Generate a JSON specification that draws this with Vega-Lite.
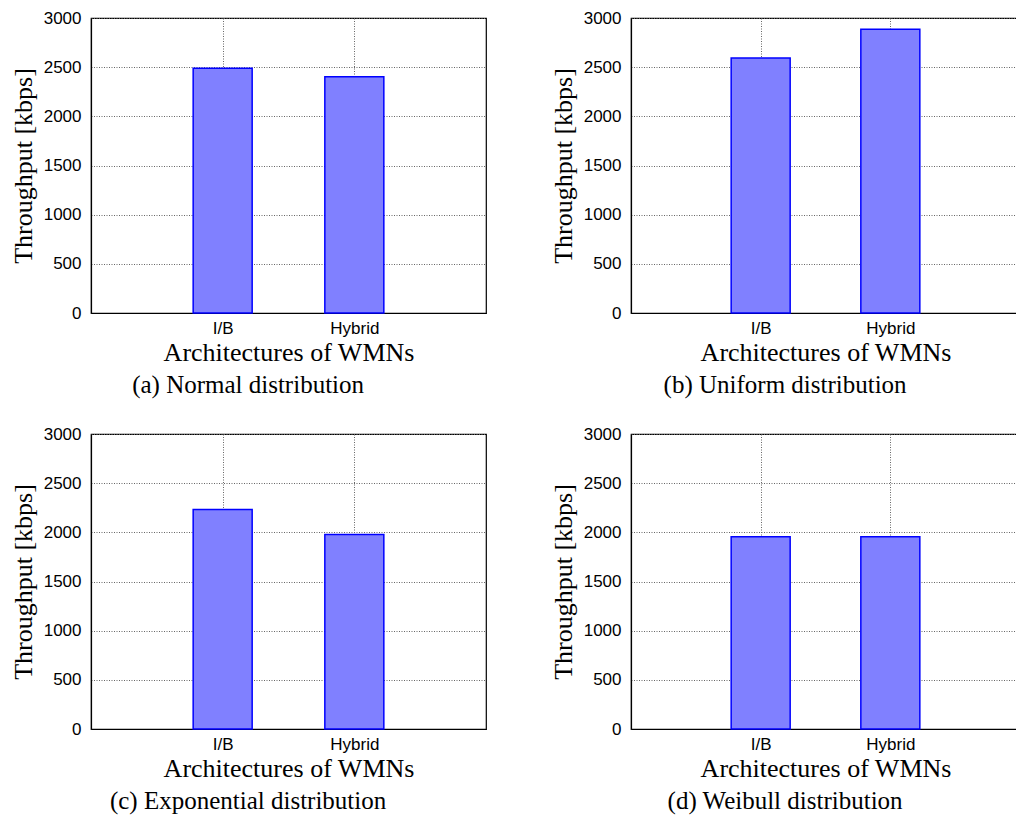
{
  "$schema": "https://vega.github.io/schema/vega-lite/v6.json",
  "padding": {"left": 9, "top": 8, "right": 0, "bottom": 0},
  "background": "white",
  "datasets": {
    "d": [
      {"dist": "Normal", "arch": "I/B", "throughput": 2490},
      {"dist": "Normal", "arch": "Hybrid", "throughput": 2403},
      {"dist": "Uniform", "arch": "I/B", "throughput": 2593},
      {"dist": "Uniform", "arch": "Hybrid", "throughput": 2885},
      {"dist": "Exponential", "arch": "I/B", "throughput": 2232},
      {"dist": "Exponential", "arch": "Hybrid", "throughput": 1978},
      {"dist": "Weibull", "arch": "I/B", "throughput": 1954},
      {"dist": "Weibull", "arch": "Hybrid", "throughput": 1954}
    ]
  },
  "config": {
    "view": {"stroke": "black", "strokeWidth": 1.2},
    "axis": {
      "labelFont": "Liberation Sans", "labelFontSize": 17, "labelColor": "black",
      "titleFont": "Liberation Serif", "titleFontSize": 26, "titleFontWeight": "normal", "titleColor": "black",
      "domainColor": "black", "domainWidth": 1.2, "ticks": false,
      "grid": true, "gridColor": "#666666", "gridDash": [1, 1.5], "gridWidth": 1, "gridOpacity": 1
    },
    "title": {"font": "Liberation Serif", "fontSize": 25, "fontWeight": "normal", "color": "black"}
  },
  "spacing": 25,
  "vconcat": [
    {
      "spacing": 62,
      "hconcat": [
        {
          "data": {"name": "d"},
          "transform": [{"filter": "datum.dist == 'Normal'"}],
          "title": {"text": "(a)  Normal distribution", "orient": "bottom", "frame": "bounds", "anchor": "middle", "offset": 8},
          "width": 395, "height": 295,
          "mark": {"type": "bar", "width": 59, "fill": "#8080ff", "stroke": "#0000ff", "strokeWidth": 1.5},
          "encoding": {
            "x": {"field": "arch", "type": "nominal", "sort": ["I/B", "Hybrid"], "scale": {"type": "point", "padding": 1},
                  "axis": {"title": "Architectures of WMNs", "labelAngle": 0, "labelPadding": 7, "titlePadding": 3}},
            "y": {"field": "throughput", "type": "quantitative", "scale": {"domain": [0, 3000], "nice": false},
                  "axis": {"title": "Throughput [kbps]", "format": "d", "values": [0, 500, 1000, 1500, 2000, 2500, 3000], "labelPadding": 10, "titlePadding": 7}}
          }
        },
        {
          "data": {"name": "d"},
          "transform": [{"filter": "datum.dist == 'Uniform'"}],
          "title": {"text": "(b)  Uniform distribution", "orient": "bottom", "frame": "bounds", "anchor": "middle", "offset": 8},
          "width": 389, "height": 295,
          "mark": {"type": "bar", "width": 59, "fill": "#8080ff", "stroke": "#0000ff", "strokeWidth": 1.5},
          "encoding": {
            "x": {"field": "arch", "type": "nominal", "sort": ["I/B", "Hybrid"], "scale": {"type": "point", "padding": 1},
                  "axis": {"title": "Architectures of WMNs", "labelAngle": 0, "labelPadding": 7, "titlePadding": 3}},
            "y": {"field": "throughput", "type": "quantitative", "scale": {"domain": [0, 3000], "nice": false},
                  "axis": {"title": "Throughput [kbps]", "format": "d", "values": [0, 500, 1000, 1500, 2000, 2500, 3000], "labelPadding": 10, "titlePadding": 7}}
          }
        }
      ]
    },
    {
      "spacing": 62,
      "hconcat": [
        {
          "data": {"name": "d"},
          "transform": [{"filter": "datum.dist == 'Exponential'"}],
          "title": {"text": "(c)  Exponential distribution", "orient": "bottom", "frame": "bounds", "anchor": "middle", "offset": 8},
          "width": 395, "height": 295,
          "mark": {"type": "bar", "width": 59, "fill": "#8080ff", "stroke": "#0000ff", "strokeWidth": 1.5},
          "encoding": {
            "x": {"field": "arch", "type": "nominal", "sort": ["I/B", "Hybrid"], "scale": {"type": "point", "padding": 1},
                  "axis": {"title": "Architectures of WMNs", "labelAngle": 0, "labelPadding": 7, "titlePadding": 3}},
            "y": {"field": "throughput", "type": "quantitative", "scale": {"domain": [0, 3000], "nice": false},
                  "axis": {"title": "Throughput [kbps]", "format": "d", "values": [0, 500, 1000, 1500, 2000, 2500, 3000], "labelPadding": 10, "titlePadding": 7}}
          }
        },
        {
          "data": {"name": "d"},
          "transform": [{"filter": "datum.dist == 'Weibull'"}],
          "title": {"text": "(d)  Weibull distribution", "orient": "bottom", "frame": "bounds", "anchor": "middle", "offset": 8},
          "width": 389, "height": 295,
          "mark": {"type": "bar", "width": 59, "fill": "#8080ff", "stroke": "#0000ff", "strokeWidth": 1.5},
          "encoding": {
            "x": {"field": "arch", "type": "nominal", "sort": ["I/B", "Hybrid"], "scale": {"type": "point", "padding": 1},
                  "axis": {"title": "Architectures of WMNs", "labelAngle": 0, "labelPadding": 7, "titlePadding": 3}},
            "y": {"field": "throughput", "type": "quantitative", "scale": {"domain": [0, 3000], "nice": false},
                  "axis": {"title": "Throughput [kbps]", "format": "d", "values": [0, 500, 1000, 1500, 2000, 2500, 3000], "labelPadding": 10, "titlePadding": 7}}
          }
        }
      ]
    }
  ]
}
